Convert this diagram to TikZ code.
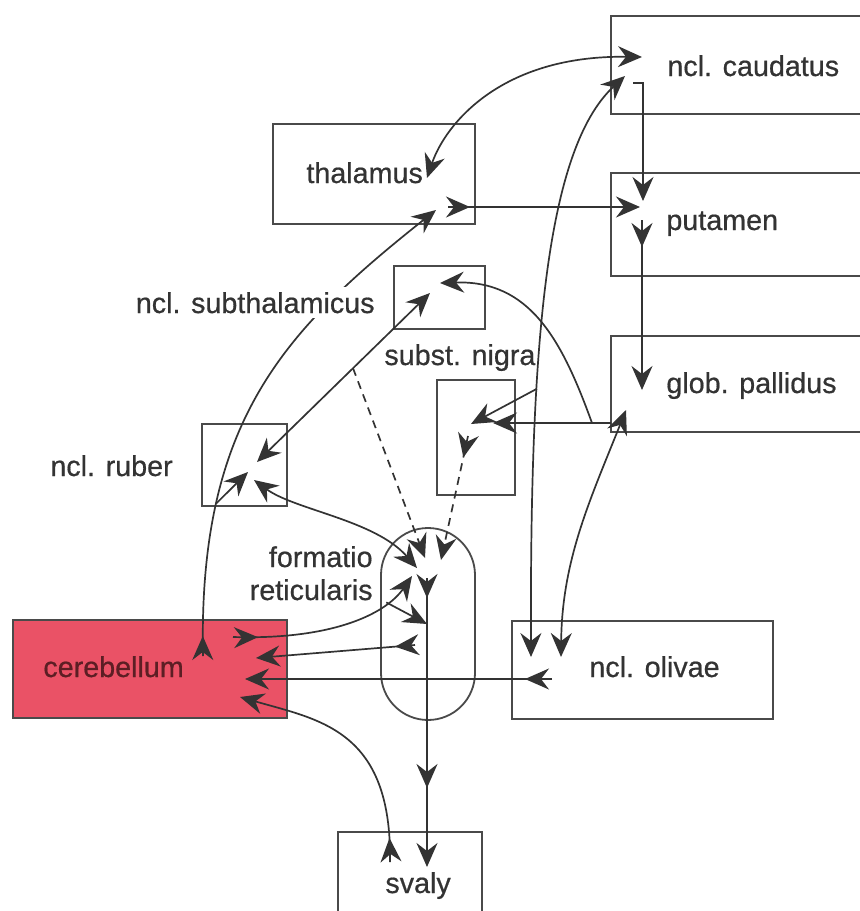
\documentclass[tikz,border=0pt]{standalone}
\usepackage{fontspec}
\setmainfont{Liberation Sans}
\newfontfamily\labelfont[FakeBold=0.6]{Liberation Sans}
\usetikzlibrary{arrows.meta,decorations.markings}
\definecolor{ink}{HTML}{333333}
\definecolor{frame}{HTML}{4A4A4A}
\definecolor{cerebfill}{RGB}{234,82,102}
\definecolor{cerebtext}{RGB}{92,30,36}
\begin{document}
\begin{tikzpicture}[x=0.5pt,y=-0.5pt,
  >={Stealth[length=12pt,width=10.5pt,inset=4pt]},
  box/.style={draw=frame, line width=0.9pt, inner sep=0pt, outer sep=0pt},
  lbl/.style={text=ink, inner sep=0pt, font=\labelfont\fontsize{14.35pt}{16.5pt}\selectfont},
  conn/.style={ink, line width=0.85pt},
  lead/.style={postaction={decorate, decoration={markings, mark=at position #1 with {\arrow{>}}}}},
  dash line/.style={dash pattern=on 4pt off 3pt},
]
\useasboundingbox (0,0) rectangle (859,911);

% nuclei
\node[box, minimum width=127pt, minimum height=49pt] (caud) at (738,65) {};
\node[box, minimum width=127pt, minimum height=51.5pt] (put) at (738,224.5) {};
\node[box, minimum width=127pt, minimum height=48pt] (pal) at (738,384) {};
\node[box, minimum width=101pt, minimum height=50pt] (thal) at (374,174) {};
\node[box, minimum width=45.5pt, minimum height=31.5pt] (sub) at (439.5,297.5) {};
\node[box, minimum width=39pt, minimum height=57.5pt] (nig) at (476,437.5) {};
\node[box, minimum width=42.5pt, minimum height=41pt] (rub) at (244.5,465) {};
\node[box, rounded corners=23.5pt, minimum width=47pt, minimum height=96pt] (form) at (428,624) {};
\node[box, fill=cerebfill, minimum width=137pt, minimum height=49pt] (cereb) at (150,669) {};
\node[box, minimum width=130.5pt, minimum height=49pt] (oliv) at (642.5,670) {};
\node[box, minimum width=72pt, minimum height=49pt] (sval) at (410,881) {};

% connector end points
\coordinate (thalIn) at (427,178);
\coordinate (caudInA) at (642,57);
\coordinate (thalOut) at (448,207);
\coordinate (putInA) at (640,207);
\coordinate (cerOutA) at (203,656);
\coordinate (thalInB) at (436,210);
\coordinate (rubInA) at (257,462);
\coordinate (rubInB) at (248,472);
\coordinate (rubInC) at (254,480);
\coordinate (subInA) at (430,293);
\coordinate (subInB) at (440,283);
\coordinate (forInA) at (425,558);
\coordinate (forInB) at (441,560);
\coordinate (forInC) at (417,568);
\coordinate (forInD) at (412,576);
\coordinate (forInE) at (427,624);
\coordinate (forOutA) at (415,645);
\coordinate (forOutB) at (427,578);
\coordinate (nigOut) at (468,436);
\coordinate (nigIn) at (493,423);
\coordinate (nigInB) at (471,424);
\coordinate (palOutA) at (611,423);
\coordinate (palIn) at (642,390);
\coordinate (palInB) at (626,410);
\coordinate (olivInA) at (531,657);
\coordinate (olivInB) at (561,657);
\coordinate (olivOut) at (552,679);
\coordinate (caudInB) at (625,76);
\coordinate (caudOut) at (633,83);
\coordinate (putInB) at (643,201);
\coordinate (putOut) at (642,220);
\coordinate (cerInA) at (245,679);
\coordinate (cerInB) at (256,658);
\coordinate (cerInC) at (240,697);
\coordinate (cerOutB) at (233,637);
\coordinate (svIn) at (427,867);
\coordinate (svOut) at (390,862);

% connections
\draw[conn,<->] (thalIn) .. controls (445,125) and (500,55) .. (caudInA);
\draw[conn,->,lead=11pt] (thalOut) -- (putInA);
\draw[conn,->,lead=10pt] (cerOutA) .. controls (198,420) and (285,330) .. (thalInB) coordinate[pos=0.25] (arcFork);
\draw[conn,->] (arcFork) -- (rubInB);
\draw[conn,<->] (rubInA) -- (subInA) coordinate[pos=0.555] (rsFork);
\draw[conn,->,dash line] (rsFork) -- (forInA);
\draw[conn,->,dash line,lead=11pt] (nigOut) -- (forInB);
\draw[conn,<->] (rubInC) .. controls (295,510) and (375,520) .. (forInC);
\draw[conn,->] (palOutA) -- (nigIn) coordinate[pos=0.161] (pnFork);
\draw[conn,->] (pnFork) .. controls (562,340) and (530,280) .. (subInB);
\draw[conn,<->] (olivInA) .. controls (530,350) and (545,150) .. (caudInB) coordinate[pos=0.33] (coFork);
\draw[conn,->] (coFork) -- (nigInB);
\draw[conn,->] (caudOut) -| (putInB);
\draw[conn,->,lead=13.5pt] (putOut) -- (palIn);
\draw[conn,<->] (palInB) .. controls (590,500) and (562,560) .. (olivInB);
\draw[conn,->,lead=13.5pt] (olivOut) -- (cerInA);
\draw[conn,->,lead=10pt] (forOutA) -- (cerInB);
\draw[conn,->,lead=12.5pt] (cerOutB) .. controls (330,640) and (385,615) .. (forInD) coordinate[pos=0.75] (cfFork);
\draw[conn,->] (cfFork) -- (forInE);
\draw[conn,->,lead=10pt,lead=105pt] (forOutB) -- (svIn);
\draw[conn,->,lead=12pt] (svOut) .. controls (392,730) and (320,720) .. (cerInC);

% labels
\node[lbl, anchor=base west] (caudT) at (667,76) {ncl. caudatus};
\node[lbl, anchor=base west] (putT) at (666,230) {putamen};
\node[lbl, anchor=base west] (palT) at (666,393) {glob. pallidus};
\node[lbl, anchor=base west] (thalT) at (306,183) {thalamus};
\node[lbl, anchor=base east, fill=white, inner sep=2.5pt] (subT) at (380,313) {ncl. subthalamicus};
\node[lbl, anchor=base west] (nigT) at (384,365) {subst. nigra};
\node[lbl, anchor=base west] (rubT) at (50,476) {ncl. ruber};
\node[lbl, anchor=base east] (formT) at (373,567) {formatio};
\node[lbl, anchor=base east] (retT) at (373,600) {reticularis};
\node[lbl, anchor=base west, text=cerebtext] (cerT) at (43,677) {cerebellum};
\node[lbl, anchor=base west] (olivT) at (589,677) {ncl. olivae};
\node[lbl, anchor=base west] (svT) at (385,893) {svaly};
\end{tikzpicture}
\end{document}
